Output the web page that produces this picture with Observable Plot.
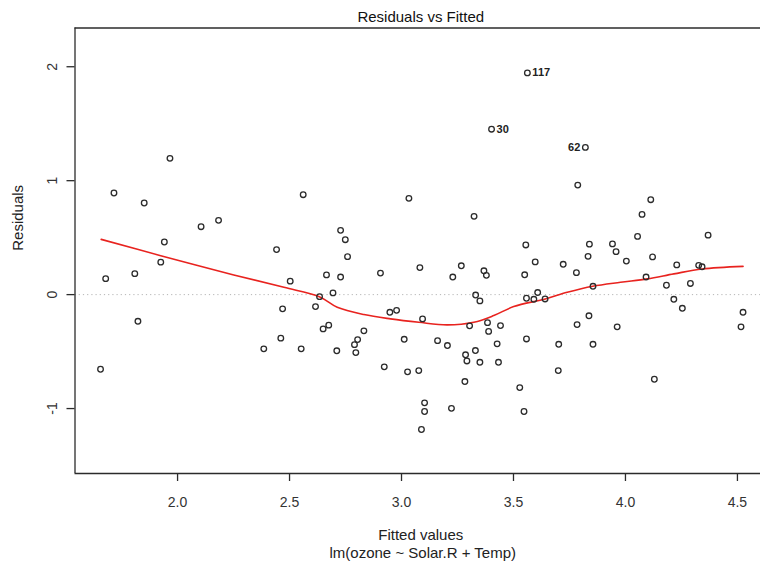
<!DOCTYPE html>
<html><head><meta charset="utf-8">
<script src="https://cdn.jsdelivr.net/npm/d3@7"></script>
<script src="https://cdn.jsdelivr.net/npm/@observablehq/plot@0.6"></script>
<style>
html,body{margin:0;padding:0;background:#fff;overflow:hidden;}
#chart svg{display:block;}
</style></head><body><div id="chart"></div>
<script>
const fitted = [
  1.656, 1.679, 1.716, 1.809, 1.823, 1.851, 1.925, 1.941, 1.966, 2.105, 2.183,
  2.385, 2.442, 2.461, 2.469, 2.503, 2.552, 2.561, 2.616, 2.634, 2.650, 2.665, 2.675, 2.694, 2.711,
  2.728, 2.728, 2.749, 2.759, 2.790, 2.796, 2.804, 2.832, 2.906, 2.923, 2.948, 2.978, 3.012, 3.027,
  3.033, 3.077, 3.082, 3.094, 3.103, 3.103, 3.089,
  3.161, 3.205, 3.223, 3.229, 3.267, 3.283, 3.286, 3.292, 3.304, 3.324, 3.331, 3.330, 3.350, 3.350,
  3.368, 3.379, 3.384, 3.389, 3.402, 3.427, 3.433, 3.442, 3.528, 3.547, 3.550, 3.555, 3.558, 3.558,
  3.562, 3.591, 3.597, 3.608, 3.641, 3.702, 3.700, 3.722, 3.781, 3.784, 3.787, 3.821, 3.833, 3.837,
  3.839, 3.855, 3.855,
  3.942, 3.958, 3.963, 4.004, 4.054, 4.074, 4.092, 4.113, 4.121, 4.129, 4.183, 4.216, 4.229, 4.254,
  4.290, 4.327, 4.342, 4.369, 4.516, 4.525
];
const residuals = [
  -0.655, 0.140, 0.892, 0.184, -0.234, 0.804, 0.285, 0.462, 1.196, 0.596, 0.652,
  -0.476, 0.395, -0.382, -0.125, 0.118, -0.476, 0.877, -0.105, -0.018, -0.301, 0.173, -0.268, 0.015, -0.493,
  0.564, 0.154, 0.482, 0.333, -0.439, -0.509, -0.395, -0.318, 0.189, -0.634, -0.155, -0.138, -0.392, -0.678,
  0.845, -0.667, 0.237, -0.213, -0.950, -1.026, -1.184,
  -0.404, -0.447, -0.998, 0.154, 0.253, -0.763, -0.528, -0.582, -0.274, 0.687, -0.004, -0.491, -0.055, -0.594,
  0.209, 0.169, -0.246, -0.323, 1.452, -0.432, -0.594, -0.272, -0.816, -1.026, 0.174, 0.436, -0.032, -0.389,
  1.946, -0.041, 0.287, 0.018, -0.038, -0.436, -0.667, 0.266, 0.193, -0.263, 0.961, 1.292, 0.336, -0.186,
  0.443, -0.436, 0.073,
  0.445, 0.377, -0.283, 0.294, 0.511, 0.704, 0.154, 0.833, 0.331, -0.743, 0.082, -0.041, 0.261, -0.120,
  0.098, 0.257, 0.244, 0.522, -0.283, -0.155
];
const pointLabels = ["117", "30", "62"];
const pointLabelIndex = [74, 64, 85];
const pointLabelSide = ["right", "right", "left"];

const smoothFitted = [1.659, 1.925, 2.251, 2.475, 2.633, 2.713, 2.832, 2.951, 3.077, 3.204, 3.323,
  3.412, 3.501, 3.642, 3.740, 3.854, 3.978, 4.097, 4.216, 4.342, 4.525];
const smoothResid = [0.485, 0.342, 0.173, 0.064, -0.018, -0.111, -0.175, -0.213, -0.243, -0.266, -0.243,
  -0.184, -0.105, -0.038, 0.020, 0.073, 0.108, 0.138, 0.182, 0.225, 0.248];

const xTicks = [2.0, 2.5, 3.0, 3.5, 4.0, 4.5];
const yTicks = [-1, 0, 1, 2];
const yTickLabels = ["-1", "0", "1", "2"];
const xDomain = [1.542, 4.603];
const yDomain = [-1.57, 2.34];
const title = "Residuals vs Fitted";
const xLabel = "Fitted values";
const xSubLabel = "lm(ozone ~ Solar.R + Temp)";
const yLabel = "Residuals";

const points = fitted.map((f, i) => ({fitted: f, residual: residuals[i]}));
const smooth = smoothFitted.map((f, i) => ({fitted: f, residual: smoothResid[i]}));
const labelled = pointLabels.map((t, j) => ({
  text: t, side: pointLabelSide[j],
  fitted: fitted[pointLabelIndex[j]], residual: residuals[pointLabelIndex[j]]
}));

const ink = "#2b2b2b";
const plot = Plot.plot({
  width: 760,
  height: 561,
  marginLeft: 74.5,
  marginTop: 27.5,
  marginBottom: 88,
  marginRight: 0,
  style: {fontFamily: "'Liberation Sans', Arial, sans-serif", fontSize: "14px", color: "#333", background: "#fff"},
  x: {domain: xDomain},
  y: {domain: yDomain},
  marks: [
    Plot.ruleY([0], {stroke: "#b5b5b5", strokeWidth: 1, strokeDasharray: "1.2,3"}),
    Plot.ruleY([yDomain[1], yDomain[0]], {stroke: ink, strokeWidth: 1.3}),
    Plot.ruleX([xDomain[0]], {stroke: ink, strokeWidth: 1.3}),
    Plot.axisX(xTicks, {tickSize: 8, tickPadding: 16, tickFormat: d3.format(".1f"), stroke: ink, strokeWidth: 1.3, label: null, fontSize: 14}),
    Plot.axisY(yTicks, {tickSize: 8, tickPadding: 10, tickRotate: -90, tickFormat: d => yTickLabels[yTicks.indexOf(d)], stroke: ink, strokeWidth: 1.3, label: null, fontSize: 14}),
    Plot.line(smooth, {x: "fitted", y: "residual", stroke: "#e8231f", strokeWidth: 1.6, curve: "catmull-rom"}),
    Plot.dot(points, {x: "fitted", y: "residual", r: 2.8, stroke: ink, strokeWidth: 1.3, fill: "none"}),
    Plot.text(labelled.filter(d => d.side === "right"), {x: "fitted", y: "residual", text: "text", textAnchor: "start", dx: 5, fontSize: 11, fontWeight: "bold", fill: "#222"}),
    Plot.text(labelled.filter(d => d.side === "left"), {x: "fitted", y: "residual", text: "text", textAnchor: "end", dx: -5, fontSize: 11, fontWeight: "bold", fill: "#222"}),
    Plot.text([title], {frameAnchor: "top", lineAnchor: "middle", dx: 3, dy: -10.5, fontSize: 15, fill: "#111"}),
    Plot.text([xLabel], {frameAnchor: "bottom", lineAnchor: "middle", dx: 3, dy: 62, fontSize: 15, fill: "#222"}),
    Plot.text([xSubLabel], {frameAnchor: "bottom", lineAnchor: "middle", dx: 5, dy: 80, fontSize: 15, fill: "#222"}),
    Plot.text([yLabel], {frameAnchor: "left", lineAnchor: "middle", dx: -56.5, rotate: -90, fontSize: 15, fill: "#222"})
  ]
});
document.getElementById("chart").appendChild(plot);
</script>
</body></html>
